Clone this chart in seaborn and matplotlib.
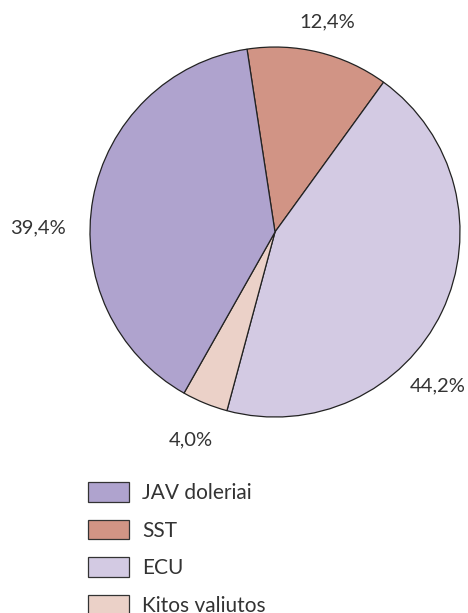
import numpy as np
import matplotlib
matplotlib.use("Agg")
import matplotlib.pyplot as plt
import seaborn as sns
from matplotlib.patches import Patch

sns.set_theme(style="white")
plt.rcParams['font.family'] = ['Lato', 'DejaVu Sans']

# data (clockwise from the top)
categories = ['SST', 'ECU', 'Kitos valiutos', 'JAV doleriai']
shares = [12.4, 44.2, 4.0, 39.4]
pct_labels = ['12,4%', '44,2%', '4,0%', '39,4%']
colors = ['#D19485', '#D3CAE3', '#EBD1C8', '#AFA3CE']
legend_order = ['JAV doleriai', 'SST', 'ECU', 'Kitos valiutos']

fig = plt.figure(figsize=(4.68, 6.13), dpi=100)
ax = fig.add_axes([0.1923, 0.3197, 0.7906, 0.6036])

wedges, _ = ax.pie(shares, colors=colors, startangle=98.7, counterclock=False,
                   wedgeprops=dict(edgecolor='#222222', linewidth=0.9))
ax.set_xlim(-1, 1)
ax.set_ylim(-1, 1)
ax.set_aspect('equal')

# percentage labels, placed by angle/distance from the centre
label_pos = {'12,4%': (76.1, 1.17), '44,2%': (-43.5, 1.21),
             '4,0%': (248.0, 1.21), '39,4%': (179.0, 1.28)}
for lab in pct_labels:
    ang, d = label_pos[lab]
    ax.text(d * np.cos(np.radians(ang)), d * np.sin(np.radians(ang)), lab,
            ha='center', va='center', fontsize=14.5, color='#333333')

color_of = dict(zip(categories, colors))
handles = [Patch(facecolor=color_of[c], edgecolor='#333333', linewidth=0.9)
           for c in legend_order]
fig.legend(handles, legend_order, loc='upper left', bbox_to_anchor=(0.188, 0.213),
           frameon=False, fontsize=15, handlelength=1.97, handleheight=1.05,
           labelspacing=0.8, handletextpad=0.63, labelcolor='#333333',
           borderaxespad=0, borderpad=0)

fig.savefig('out.png', dpi=100)
